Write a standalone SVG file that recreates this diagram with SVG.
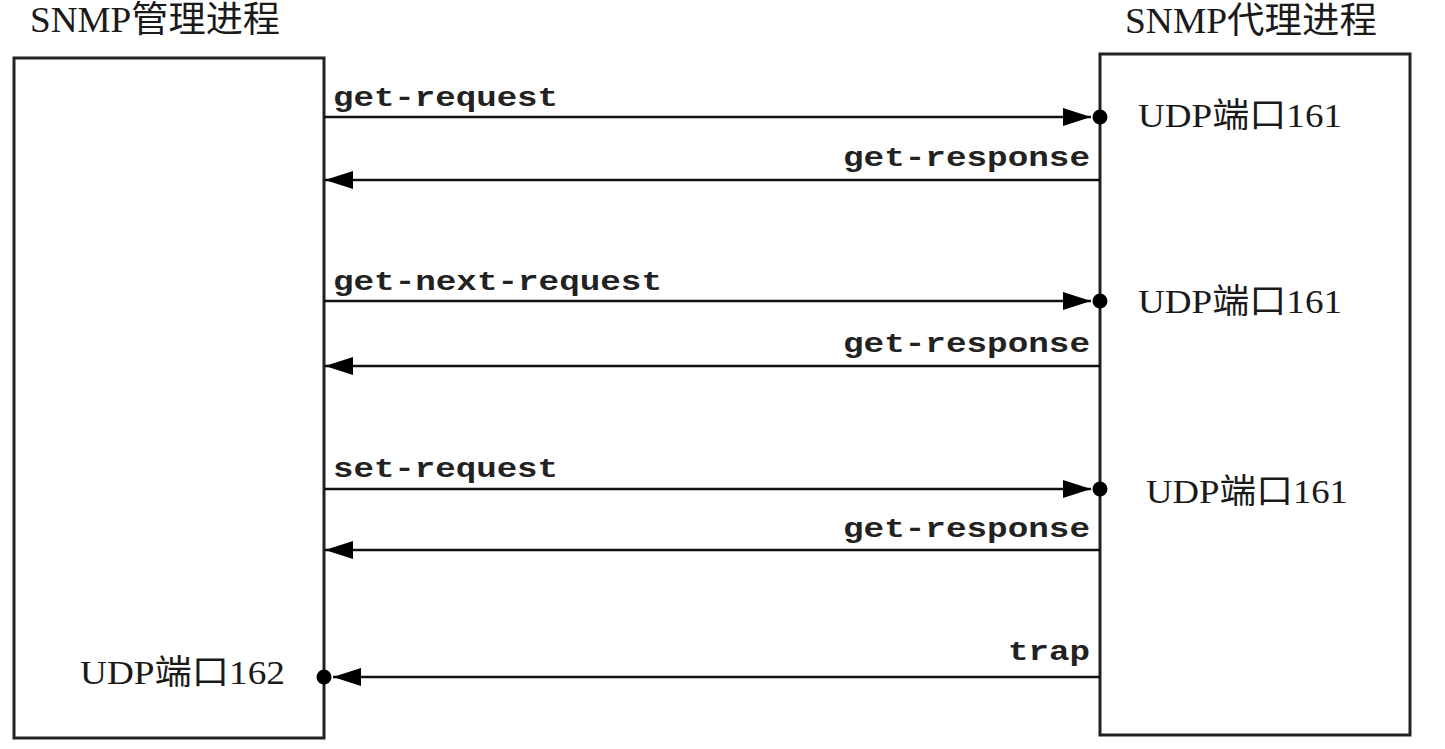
<svg xmlns="http://www.w3.org/2000/svg" width="1445" height="749" viewBox="0 0 1445 749">
<style>
.box{fill:#fff;stroke:#222;stroke-width:3}
.ln{stroke:#111;stroke-width:2.5;fill:none}
.title{font-family:"Liberation Serif","Noto Sans CJK SC",serif;font-size:36px;fill:#1a1a1a}
.port{font-family:"Liberation Serif","Noto Sans CJK SC",serif;font-size:34px;fill:#1a1a1a}
.msg{font-family:"Liberation Mono",monospace;font-size:27px;font-weight:bold;fill:#222}
.dot{fill:#000}
</style>
<defs>
<marker id="ah" viewBox="0 0 28 18" refX="28" refY="9" markerWidth="28" markerHeight="18" markerUnits="userSpaceOnUse" orient="auto">
<path d="M0,0 L28,9 L0,18 Z" fill="#000"/>
</marker>
</defs>
<rect width="1445" height="749" fill="#fff"/>
<g id="manager">
<rect class="box" x="14" y="58" width="310" height="680"/>
<text class="title" x="30" y="32" textLength="250" lengthAdjust="spacingAndGlyphs">SNMP管理进程</text>
<text class="port" x="80" y="684" textLength="205" lengthAdjust="spacingAndGlyphs">UDP端口162</text>
</g>
<g id="agent">
<rect class="box" x="1100" y="54" width="310" height="681"/>
<text class="title" x="1125" y="33" textLength="252" lengthAdjust="spacingAndGlyphs">SNMP代理进程</text>
<text class="port" x="1138" y="127" textLength="204" lengthAdjust="spacingAndGlyphs">UDP端口161</text>
<text class="port" x="1138" y="313" textLength="204" lengthAdjust="spacingAndGlyphs">UDP端口161</text>
<text class="port" x="1146" y="503" textLength="202" lengthAdjust="spacingAndGlyphs">UDP端口161</text>
</g>
<g id="connectors">
<line class="ln" x1="324" y1="117" x2="1091" y2="117" marker-end="url(#ah)"/>
<circle class="dot" cx="1100" cy="117" r="7.5"/>
<line class="ln" x1="1100" y1="180" x2="325" y2="180" marker-end="url(#ah)"/>
<line class="ln" x1="324" y1="301" x2="1091" y2="301" marker-end="url(#ah)"/>
<circle class="dot" cx="1100" cy="301" r="7.5"/>
<line class="ln" x1="1100" y1="366" x2="325" y2="366" marker-end="url(#ah)"/>
<line class="ln" x1="324" y1="489" x2="1091" y2="489" marker-end="url(#ah)"/>
<circle class="dot" cx="1100" cy="489" r="7.5"/>
<line class="ln" x1="1100" y1="550" x2="325" y2="550" marker-end="url(#ah)"/>
<line class="ln" x1="1100" y1="677" x2="333" y2="677" marker-end="url(#ah)"/>
<circle class="dot" cx="324" cy="677" r="7.5"/>
<text class="msg" x="333" y="106" textLength="225" lengthAdjust="spacingAndGlyphs">get-request</text>
<text class="msg" x="843" y="166" textLength="247" lengthAdjust="spacingAndGlyphs">get-response</text>
<text class="msg" x="333" y="290" textLength="329" lengthAdjust="spacingAndGlyphs">get-next-request</text>
<text class="msg" x="843" y="352" textLength="247" lengthAdjust="spacingAndGlyphs">get-response</text>
<text class="msg" x="333" y="477" textLength="225" lengthAdjust="spacingAndGlyphs">set-request</text>
<text class="msg" x="843" y="537" textLength="247" lengthAdjust="spacingAndGlyphs">get-response</text>
<text class="msg" x="1008" y="660" textLength="82" lengthAdjust="spacingAndGlyphs">trap</text>
</g>
</svg>
